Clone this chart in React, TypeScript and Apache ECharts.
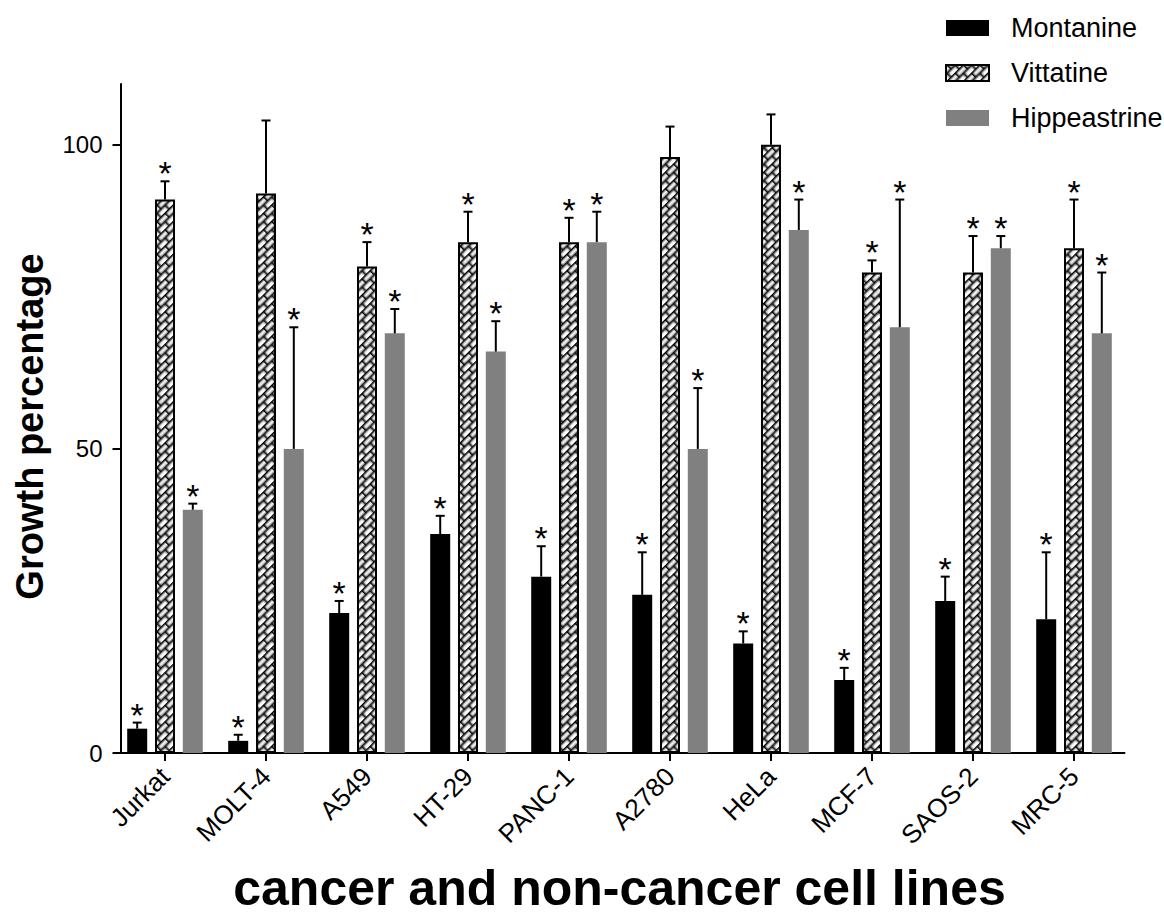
import { useEffect, useRef } from 'react';
import * as echarts from 'echarts';

const categories = ['Jurkat', 'MOLT-4', 'A549', 'HT-29', 'PANC-1', 'A2780', 'HeLa', 'MCF-7', 'SAOS-2', 'MRC-5'];
const seriesNames = ['Montanine', 'Vittatine', 'Hippeastrine'];

const montanine = [4, 2, 23, 36, 29, 26, 18, 12, 25, 22];
const montanineErr = [1, 1, 2, 3, 5, 7, 2, 2, 4, 11];
const montanineSig = [1, 1, 1, 1, 1, 1, 1, 1, 1, 1];

const vittatine = [91, 92, 80, 84, 84, 98, 100, 79, 79, 83];
const vittatineErr = [3, 12, 4, 5, 4, 5, 5, 2, 6, 8];
const vittatineSig = [1, 0, 1, 1, 1, 0, 0, 1, 1, 1];

const hippeastrine = [40, 50, 69, 66, 84, 50, 86, 70, 83, 69];
const hippeastrineErr = [1, 20, 4, 5, 5, 10, 5, 21, 2, 10];
const hippeastrineSig = [1, 1, 1, 1, 1, 1, 1, 1, 1, 1];

const yTicks = [0, 50, 100];
const yMax = 110;

const FONT = '"Liberation Sans", Arial, Helvetica, sans-serif';
const BAR_W = 20;
const BAR_GAP = 0.39;

function makeHatchURL(): string {
  const c = document.createElement('canvas');
  c.width = 8;
  c.height = 8;
  const ctx = c.getContext('2d')!;
  ctx.fillStyle = '#fff';
  ctx.fillRect(0, 0, 8, 8);
  ctx.strokeStyle = '#000';
  ctx.lineWidth = 1.4;
  ctx.lineCap = 'square';
  ctx.beginPath();
  ctx.moveTo(0, 0.5); ctx.lineTo(8, 0.5);
  ctx.moveTo(0, 4.5); ctx.lineTo(8, 4.5);
  ctx.moveTo(0.5, 0); ctx.lineTo(0.5, 4.5);
  ctx.moveTo(4.5, 4.5); ctx.lineTo(4.5, 8);
  ctx.stroke();
  return c.toDataURL();
}

export default function App() {
  const ref = useRef<HTMLDivElement>(null);
  useEffect(() => {
    if (!ref.current) return;
    const chart = echarts.init(ref.current, undefined, { renderer: 'svg' });
    const hatch: any = {
      image: makeHatchURL(),
      imageWidth: 8,
      imageHeight: 8,
      repeat: 'repeat',
      rotation: -Math.PI / 4,
      scaleX: 1.45,
      scaleY: 1.45,
    };

    const errSeries = (s: number, means: number[], errs: number[], sigs: number[]) => ({
      type: 'custom',
      name: seriesNames[s] + ' SD',
      z: 5,
      silent: true,
      encode: { x: 0, y: 1 },
      data: means.map((m, i) => [i, m, errs[i], sigs[i]]),
      renderItem: (_params: any, api: any) => {
        const i = api.value(0);
        const m = api.value(1);
        const e = api.value(2);
        const sig = api.value(3);
        const off = (s - 1) * BAR_W * (1 + BAR_GAP);
        const p0 = api.coord([i, m]);
        const p1 = api.coord([i, m + e]);
        const x = p0[0] + off;
        const children: any[] = [
          { type: 'line', shape: { x1: x, y1: p0[1], x2: x, y2: p1[1] }, style: { stroke: '#000', lineWidth: 2 } },
          { type: 'line', shape: { x1: x - 4.5, y1: p1[1], x2: x + 4.5, y2: p1[1] }, style: { stroke: '#000', lineWidth: 2 } },
        ];
        if (sig) {
          children.push({
            type: 'text',
            x,
            y: p1[1] - 8,
            style: { text: '*', fontSize: 34, fontFamily: FONT, fill: '#000', align: 'center', verticalAlign: 'middle' },
          });
        }
        return { type: 'group', children };
      },
    });

    chart.setOption({
      animation: false,
      backgroundColor: '#fff',
      legend: {
        data: seriesNames,
        orient: 'vertical',
        left: 945,
        top: 14.5,
        padding: 0,
        itemWidth: 43,
        itemHeight: 16,
        itemGap: 18,
        icon: 'rect',
        textStyle: { fontSize: 27, fontFamily: FONT, color: '#000', lineHeight: 27, padding: [0, 0, 0, 17] },
      },
      grid: { left: 114.5, right: 39.5, top: 84, bottom: 164, containLabel: false },
      xAxis: {
        type: 'category',
        data: categories,
        name: 'cancer and non-cancer cell lines',
        nameLocation: 'middle',
        nameGap: 110,
        nameTextStyle: { fontSize: 50, fontWeight: 'bold', fontFamily: FONT, color: '#000' },
        axisLine: { show: true, lineStyle: { color: '#000', width: 2 } },
        axisTick: { show: true, alignWithLabel: true, length: 8, lineStyle: { color: '#000', width: 2 } },
        axisLabel: { interval: 0, rotate: 45, margin: 19, fontSize: 26, fontFamily: FONT, color: '#000' },
      },
      yAxis: {
        type: 'value',
        min: 0,
        max: yMax,
        interval: 50,
        offset: -6,
        name: 'Growth percentage',
        nameLocation: 'middle',
        nameGap: 72,
        nameTextStyle: { fontSize: 38, fontWeight: 'bold', fontFamily: FONT, color: '#000', padding: [0, 16, 0, 0] },
        axisLine: { show: true, lineStyle: { color: '#000', width: 2 } },
        axisTick: { show: true, length: 8, lineStyle: { color: '#000', width: 2 }, customValues: yTicks },
        axisLabel: { fontSize: 24, fontFamily: FONT, color: '#000', margin: 18, customValues: yTicks },
        splitLine: { show: false },
      },
      series: [
        {
          type: 'bar',
          name: 'Montanine',
          data: montanine,
          barWidth: BAR_W,
          barGap: `${BAR_GAP * 100}%`,
          itemStyle: { color: '#000' },
        },
        {
          type: 'bar',
          name: 'Vittatine',
          data: vittatine,
          barWidth: BAR_W,
          barGap: `${BAR_GAP * 100}%`,
          itemStyle: { color: hatch, borderColor: '#000', borderWidth: 2 },
        },
        {
          type: 'bar',
          name: 'Hippeastrine',
          data: hippeastrine,
          barWidth: BAR_W,
          barGap: `${BAR_GAP * 100}%`,
          itemStyle: { color: '#808080' },
        },
        errSeries(0, montanine, montanineErr, montanineSig),
        errSeries(1, vittatine, vittatineErr, vittatineSig),
        errSeries(2, hippeastrine, hippeastrineErr, hippeastrineSig),
      ],
    } as any);
    return () => chart.dispose();
  }, []);
  return <div ref={ref} style={{ position: 'absolute', left: 0, top: 0, width: 1164, height: 918 }} />;
}
